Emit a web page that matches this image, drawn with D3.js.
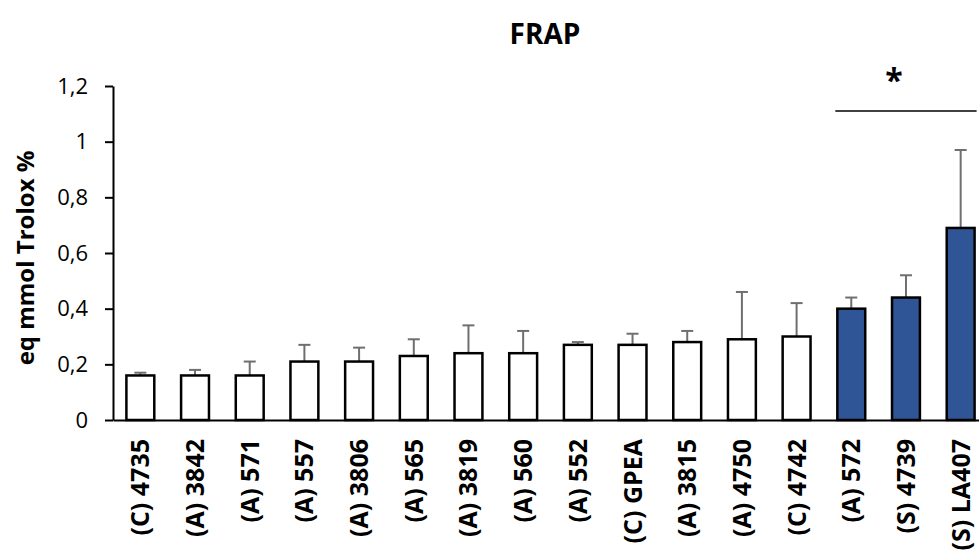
<!DOCTYPE html>
<html>
<head>
<meta charset="utf-8">
<script src="https://cdn.jsdelivr.net/npm/d3@7"></script>
<style>
  html, body { margin: 0; padding: 0; background: #fff; }
  svg { display: block; }
</style>
</head>
<body>
<svg id="chart" width="979" height="551"></svg>
<script>
// FRAP antioxidant capacity per strain (mean and upper error)
const strains = ["(C) 4735", "(A) 3842", "(A) 571", "(A) 557", "(A) 3806", "(A) 565",
  "(A) 3819", "(A) 560", "(A) 552", "(C) GPEA", "(A) 3815", "(A) 4750", "(C) 4742",
  "(A) 572", "(S) 4739", "(S) LA407"];
const means = [0.16, 0.16, 0.16, 0.21, 0.21, 0.23, 0.24, 0.24, 0.27, 0.27, 0.28, 0.29, 0.30, 0.40, 0.44, 0.69];
const errors = [0.01, 0.02, 0.05, 0.06, 0.05, 0.06, 0.10, 0.08, 0.01, 0.04, 0.04, 0.17, 0.12, 0.04, 0.08, 0.28];
const highlighted = ["(A) 572", "(S) 4739", "(S) LA407"];
const yTicks = [0, 0.2, 0.4, 0.6, 0.8, 1, 1.2];
const yTickLabels = ["0", "0,2", "0,4", "0,6", "0,8", "1", "1,2"];
const sigLevel = 1.11;
const sigLabel = "*";

const svg = d3.select("#chart");
const font = "'Open Sans', Calibri, sans-serif";

const x = d3.scaleBand().domain(strains).range([113, 988]).paddingInner(0.49).paddingOuter(0.245);
const y = d3.scaleLinear().domain([0, 1.2]).range([420, 86]);

// title
svg.append("text")
  .attr("x", 545).attr("y", 44)
  .attr("text-anchor", "middle")
  .attr("font-family", font).attr("font-weight", "bold").attr("font-size", 28)
  .attr("fill", "#000")
  .text("FRAP");

// y axis title
svg.append("text")
  .attr("transform", `translate(34,${(y(0) + y(1.2)) / 2 + 5}) rotate(-90)`)
  .attr("text-anchor", "middle")
  .attr("font-family", font).attr("font-weight", "bold").attr("font-size", 24)
  .attr("fill", "#000")
  .text("eq mmol Trolox %");

// y axis
const yAxis = d3.axisLeft(y).tickValues(yTicks)
  .tickFormat((d, i) => yTickLabels[i]).tickSize(8).tickSizeOuter(0).tickPadding(17);
const gy = svg.append("g").attr("transform", "translate(113,0)").call(yAxis);
gy.select(".domain").attr("stroke", "#000").attr("stroke-width", 2);
gy.selectAll(".tick line").attr("stroke", "#000").attr("stroke-width", 2);
gy.selectAll(".tick text").attr("font-family", font).attr("font-size", 22).attr("fill", "#000");

// error bars (upper only)
const eb = svg.append("g");
strains.forEach((s, i) => {
  const cx = x(s) + x.bandwidth() / 2;
  eb.append("line")
    .attr("x1", cx).attr("x2", cx)
    .attr("y1", y(means[i])).attr("y2", y(means[i] + errors[i]))
    .attr("stroke", "#6f6f6f").attr("stroke-width", 2);
  eb.append("line")
    .attr("x1", cx - 6).attr("x2", cx + 6)
    .attr("y1", y(means[i] + errors[i])).attr("y2", y(means[i] + errors[i]))
    .attr("stroke", "#6f6f6f").attr("stroke-width", 2);
});

// bars
svg.append("g").selectAll("rect").data(strains).join("rect")
  .attr("x", d => x(d))
  .attr("y", (d, i) => y(means[i]))
  .attr("width", x.bandwidth())
  .attr("height", (d, i) => y(0) - y(means[i]))
  .attr("fill", d => highlighted.includes(d) ? "#2F5597" : "#fff")
  .attr("stroke", "#000").attr("stroke-width", 2.5);

// x axis
const xAxis = d3.axisBottom(x).tickSize(0).tickSizeOuter(0);
const gx = svg.append("g").attr("transform", "translate(0,420)").call(xAxis);
gx.select(".domain").attr("stroke", "#000").attr("stroke-width", 2);
gx.selectAll(".tick text")
  .attr("font-family", font).attr("font-weight", "bold").attr("font-size", 25).attr("fill", "#000")
  .attr("text-anchor", "end")
  .attr("transform", "rotate(-90)")
  .attr("x", -19).attr("y", 0).attr("dy", "0.36em");

// significance bracket over the highlighted strains
const x0 = x(highlighted[0]) - 2;
const x1 = x(highlighted[highlighted.length - 1]) + x.bandwidth() + 2;
svg.append("line")
  .attr("x1", x0).attr("x2", x1)
  .attr("y1", y(sigLevel)).attr("y2", y(sigLevel))
  .attr("stroke", "#000").attr("stroke-width", 1.5);
svg.append("text")
  .attr("x", (x0 + x1) / 2 - 12).attr("y", y(sigLevel) - 19)
  .attr("text-anchor", "middle")
  .attr("font-family", font).attr("font-weight", "bold").attr("font-size", 32)
  .attr("fill", "#000")
  .text(sigLabel);
</script>
</body>
</html>
